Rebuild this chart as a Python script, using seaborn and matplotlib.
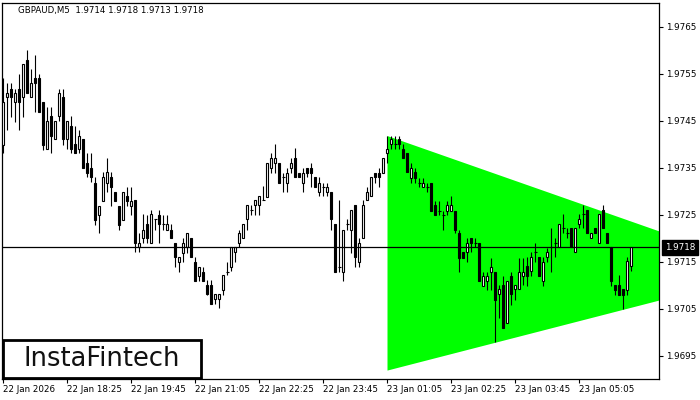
import matplotlib
matplotlib.use("Agg")
import matplotlib.pyplot as plt
from matplotlib.patches import Rectangle
import numpy as np
import pandas as pd
import seaborn as sns

symbol = "GBPAUD,M5"

# M5 candles, oldest first (22 Jan 17:05 onwards)
opens = [
    1.97398, 1.97499, 1.97518, 1.97489, 1.97518, 1.97499, 1.97579, 1.97499, 1.97540, 1.97540,
    1.97490, 1.97389, 1.97460, 1.97410, 1.97460, 1.97499, 1.97410, 1.97439, 1.97399, 1.97389,
    1.97410, 1.97359, 1.97348, 1.97318, 1.97249, 1.97279, 1.97318, 1.97329, 1.97298, 1.97269,
    1.97238, 1.97289, 1.97269, 1.97281, 1.97180, 1.97199, 1.97229, 1.97189, 1.97240, 1.97250,
    1.97229, 1.97218, 1.97218, 1.97189, 1.97150, 1.97169, 1.97180, 1.97199, 1.97150, 1.97120,
    1.97128, 1.97100, 1.97100, 1.97070, 1.97070, 1.97089, 1.97128, 1.97139, 1.97170, 1.97189,
    1.97199, 1.97240, 1.97260, 1.97270, 1.97270, 1.97281, 1.97288, 1.97348, 1.97359, 1.97359,
    1.97329, 1.97318, 1.97348, 1.97370, 1.97339, 1.97318, 1.97348, 1.97348, 1.97329, 1.97298,
    1.97309, 1.97298, 1.97298, 1.97229, 1.97139, 1.97128, 1.97229, 1.97218, 1.97270, 1.97150,
    1.97199, 1.97281, 1.97289, 1.97339, 1.97339, 1.97339, 1.97380, 1.97399, 1.97399, 1.97410,
    1.97389, 1.97380, 1.97328, 1.97340, 1.97318, 1.97309, 1.97309, 1.97318, 1.97270, 1.97258,
    1.97250, 1.97258, 1.97258, 1.97258, 1.97210, 1.97170, 1.97170, 1.97199, 1.97189, 1.97189,
    1.97098, 1.97109, 1.97128, 1.97128, 1.97080, 1.97100, 1.97020, 1.97120, 1.97091, 1.97091,
    1.97120, 1.97140, 1.97130, 1.97170, 1.97160, 1.97109, 1.97160, 1.97180, 1.97189, 1.97180,
    1.97221, 1.97210, 1.97221, 1.97170, 1.97229, 1.97251, 1.97260, 1.97199, 1.97221, 1.97189,
    1.97260, 1.97210, 1.97180, 1.97100, 1.97100, 1.97091, 1.97089, 1.97140,
]
highs = [
    1.97540, 1.97529, 1.97529, 1.97518, 1.97550, 1.97570, 1.97600, 1.97559, 1.97589, 1.97550,
    1.97490, 1.97479, 1.97479, 1.97449, 1.97518, 1.97518, 1.97449, 1.97460, 1.97439, 1.97430,
    1.97410, 1.97380, 1.97380, 1.97329, 1.97269, 1.97340, 1.97370, 1.97340, 1.97298, 1.97269,
    1.97298, 1.97309, 1.97309, 1.97281, 1.97210, 1.97252, 1.97249, 1.97260, 1.97240, 1.97260,
    1.97249, 1.97250, 1.97229, 1.97189, 1.97159, 1.97199, 1.97210, 1.97199, 1.97159, 1.97139,
    1.97139, 1.97111, 1.97111, 1.97081, 1.97081, 1.97121, 1.97150, 1.97180, 1.97180, 1.97218,
    1.97229, 1.97270, 1.97270, 1.97281, 1.97289, 1.97311, 1.97359, 1.97380, 1.97400, 1.97359,
    1.97339, 1.97348, 1.97370, 1.97391, 1.97339, 1.97348, 1.97348, 1.97359, 1.97329, 1.97329,
    1.97318, 1.97318, 1.97298, 1.97229, 1.97281, 1.97218, 1.97240, 1.97260, 1.97270, 1.97199,
    1.97281, 1.97309, 1.97329, 1.97339, 1.97348, 1.97370, 1.97418, 1.97418, 1.97418, 1.97418,
    1.97399, 1.97380, 1.97359, 1.97348, 1.97328, 1.97328, 1.97318, 1.97318, 1.97278, 1.97278,
    1.97258, 1.97278, 1.97289, 1.97258, 1.97218, 1.97170, 1.97199, 1.97199, 1.97199, 1.97189,
    1.97128, 1.97128, 1.97158, 1.97128, 1.97100, 1.97120, 1.97109, 1.97128, 1.97100, 1.97158,
    1.97158, 1.97160, 1.97171, 1.97189, 1.97160, 1.97160, 1.97179, 1.97221, 1.97201, 1.97229,
    1.97251, 1.97221, 1.97221, 1.97221, 1.97251, 1.97270, 1.97260, 1.97210, 1.97221, 1.97251,
    1.97270, 1.97210, 1.97180, 1.97100, 1.97121, 1.97091, 1.97160, 1.97180,
]
lows = [
    1.97381, 1.97430, 1.97458, 1.97447, 1.97430, 1.97458, 1.97508, 1.97499, 1.97469, 1.97469,
    1.97387, 1.97389, 1.97380, 1.97410, 1.97449, 1.97398, 1.97389, 1.97380, 1.97380, 1.97380,
    1.97348, 1.97329, 1.97320, 1.97228, 1.97210, 1.97279, 1.97298, 1.97269, 1.97279, 1.97217,
    1.97238, 1.97269, 1.97249, 1.97171, 1.97171, 1.97189, 1.97189, 1.97189, 1.97218, 1.97189,
    1.97218, 1.97218, 1.97199, 1.97139, 1.97128, 1.97150, 1.97169, 1.97159, 1.97109, 1.97109,
    1.97109, 1.97079, 1.97060, 1.97060, 1.97051, 1.97079, 1.97121, 1.97130, 1.97150, 1.97180,
    1.97199, 1.97218, 1.97249, 1.97249, 1.97249, 1.97281, 1.97288, 1.97339, 1.97339, 1.97318,
    1.97298, 1.97298, 1.97339, 1.97329, 1.97329, 1.97298, 1.97329, 1.97309, 1.97309, 1.97289,
    1.97289, 1.97289, 1.97218, 1.97128, 1.97128, 1.97109, 1.97218, 1.97169, 1.97139, 1.97139,
    1.97199, 1.97281, 1.97289, 1.97318, 1.97309, 1.97339, 1.97359, 1.97389, 1.97389, 1.97389,
    1.97370, 1.97340, 1.97318, 1.97318, 1.97309, 1.97309, 1.97298, 1.97258, 1.97250, 1.97250,
    1.97218, 1.97250, 1.97258, 1.97210, 1.97128, 1.97158, 1.97150, 1.97170, 1.97180, 1.97109,
    1.97098, 1.97089, 1.97089, 1.96979, 1.97029, 1.97009, 1.97020, 1.97057, 1.97068, 1.97091,
    1.97099, 1.97098, 1.97119, 1.97150, 1.97119, 1.97098, 1.97150, 1.97128, 1.97160, 1.97180,
    1.97210, 1.97201, 1.97180, 1.97170, 1.97221, 1.97221, 1.97210, 1.97199, 1.97210, 1.97189,
    1.97221, 1.97189, 1.97098, 1.97079, 1.97079, 1.97050, 1.97079, 1.97130,
]
closes = [
    1.97490, 1.97508, 1.97499, 1.97508, 1.97489, 1.97570, 1.97508, 1.97529, 1.97529, 1.97469,
    1.97398, 1.97449, 1.97418, 1.97449, 1.97508, 1.97410, 1.97449, 1.97389, 1.97380, 1.97418,
    1.97348, 1.97339, 1.97329, 1.97238, 1.97269, 1.97329, 1.97340, 1.97309, 1.97279, 1.97228,
    1.97298, 1.97279, 1.97279, 1.97189, 1.97189, 1.97218, 1.97199, 1.97250, 1.97240, 1.97229,
    1.97229, 1.97229, 1.97199, 1.97159, 1.97159, 1.97189, 1.97210, 1.97159, 1.97109, 1.97139,
    1.97109, 1.97081, 1.97060, 1.97081, 1.97081, 1.97121, 1.97128, 1.97180, 1.97180, 1.97210,
    1.97229, 1.97270, 1.97260, 1.97281, 1.97289, 1.97281, 1.97359, 1.97370, 1.97370, 1.97318,
    1.97329, 1.97339, 1.97359, 1.97329, 1.97329, 1.97339, 1.97339, 1.97339, 1.97309, 1.97318,
    1.97309, 1.97309, 1.97240, 1.97128, 1.97139, 1.97218, 1.97229, 1.97260, 1.97159, 1.97189,
    1.97270, 1.97298, 1.97329, 1.97329, 1.97329, 1.97370, 1.97389, 1.97410, 1.97399, 1.97399,
    1.97370, 1.97340, 1.97348, 1.97328, 1.97318, 1.97318, 1.97309, 1.97258, 1.97250, 1.97258,
    1.97250, 1.97270, 1.97270, 1.97218, 1.97158, 1.97158, 1.97189, 1.97189, 1.97189, 1.97109,
    1.97120, 1.97120, 1.97139, 1.97068, 1.97091, 1.97009, 1.97109, 1.97080, 1.97100, 1.97128,
    1.97128, 1.97119, 1.97160, 1.97170, 1.97119, 1.97150, 1.97170, 1.97180, 1.97189, 1.97229,
    1.97221, 1.97210, 1.97180, 1.97221, 1.97240, 1.97251, 1.97210, 1.97210, 1.97210, 1.97251,
    1.97221, 1.97189, 1.97109, 1.97089, 1.97079, 1.97079, 1.97150, 1.97180,
]

time_ticks = [0, 16, 32, 48, 64, 80, 96, 112, 128, 144]
time_labels = ["22 Jan 2026", "22 Jan 18:25", "22 Jan 19:45", "22 Jan 21:05",
               "22 Jan 22:25", "22 Jan 23:45", "23 Jan 01:05", "23 Jan 02:25",
               "23 Jan 03:45", "23 Jan 05:05"]
price_ticks = [1.9695, 1.9705, 1.9715, 1.9725, 1.9735, 1.9745, 1.9755, 1.9765]

# symmetrical triangle (bar index, upper edge, lower edge)
tri_x = [96, 164]
tri_upper = [1.97418, 1.97215]
tri_lower = [1.96919, 1.97068]
last_price = 1.9718

sns.set_theme(style="white")
plt.rcParams['font.family'] = ['DejaVu Sans']

df = pd.DataFrame({'open': opens, 'high': highs, 'low': lows, 'close': closes})
df['bar'] = np.arange(len(df))
up = df[df['close'] > df['open']]
down = df[df['close'] < df['open']]
flat = df[df['close'] == df['open']]

fig = plt.figure(figsize=(7, 4), dpi=100)
ax = fig.add_axes([2/700, 21/400, 657/700, 376/400])

ax.fill_between(tri_x, tri_lower, tri_upper, color='#00ff00', lw=0, zorder=1)

ax.vlines(df['bar'], df['low'], df['high'], color='black', lw=0.8, zorder=3)
ax.bar(up['bar'], up['close'] - up['open'], bottom=up['open'], width=0.55,
       facecolor='white', edgecolor='black', lw=0.8, zorder=4)
ax.bar(down['bar'], down['open'] - down['close'], bottom=down['close'], width=0.55,
       facecolor='black', edgecolor='black', lw=0.8, zorder=4)
ax.hlines(flat['open'], flat['bar'] - 0.375, flat['bar'] + 0.375, color='black', lw=0.8, zorder=4)

ax.axhline(last_price, color='black', lw=0.9, zorder=5)

ax.set_xlim(-0.25, 164)
ax.set_ylim(1.96900, 1.97700)

ax.yaxis.tick_right()
ax.set_yticks(price_ticks)
ax.set_yticklabels([f"{p:.4f}" for p in price_ticks])
ax.set_xticks(time_ticks)
ax.set_xticklabels(time_labels)
for lbl in ax.get_xticklabels():
    lbl.set_horizontalalignment('left')
ax.tick_params(axis='both', direction='out', length=3, width=0.8, labelsize=6.3,
               colors='black', bottom=True, right=True, left=False)
ax.tick_params(axis='x', pad=1.5)
ax.tick_params(axis='y', pad=2)
for s in ax.spines.values():
    s.set_color('black')
    s.set_linewidth(0.9)
ax.grid(False)

# current price tag
ax.annotate(f"{last_price:.4f}", xy=(1, last_price), xycoords=('axes fraction', 'data'),
            xytext=(4, 0), textcoords='offset points', ha='left', va='center',
            fontsize=6.3, color='white',
            bbox=dict(boxstyle='square,pad=0.3', facecolor='black', edgecolor='black'))

fig.text(18/700, 1 - 11/400,
         f"{symbol}  {opens[-1]:.4f} {highs[-1]:.4f} {lows[-1]:.4f} {closes[-1]:.4f}",
         fontsize=6.2, va='center', ha='left', color='black')

# logo box
ax.add_patch(Rectangle((0.0015, 0.003), 0.301, 0.101, transform=ax.transAxes,
                       facecolor='white', edgecolor='black', lw=2, zorder=6, clip_on=False))
ax.text(0.152, 0.053, "InstaFintech", transform=ax.transAxes, ha='center', va='center',
        fontsize=18.5, color='#111111', zorder=7)

fig.savefig("out.png", dpi=100)
